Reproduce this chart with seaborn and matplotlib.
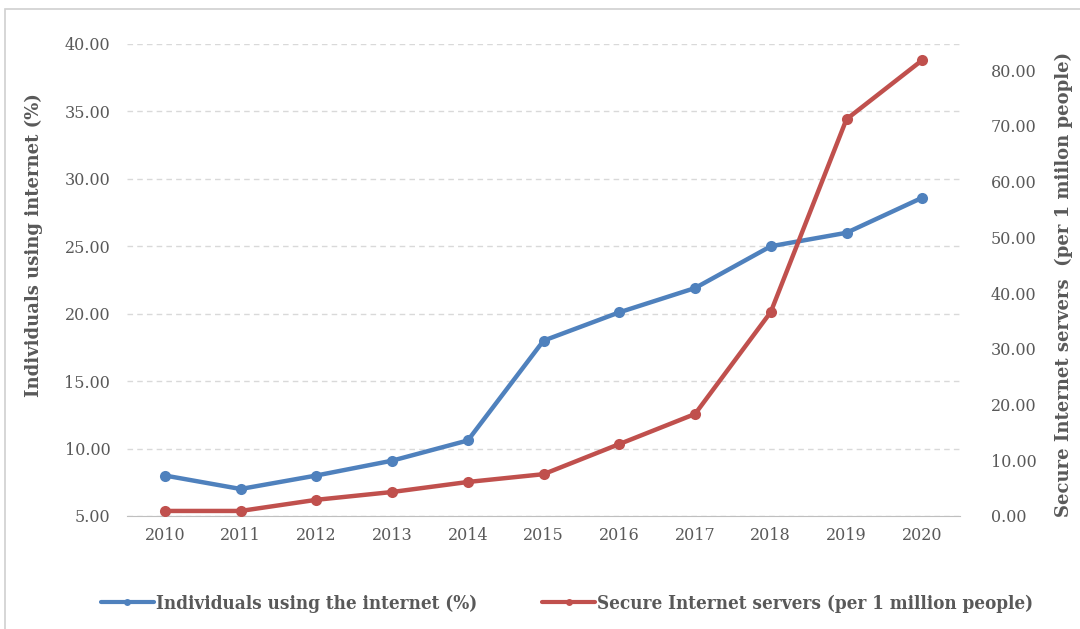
import matplotlib
matplotlib.use("Agg")
import matplotlib.pyplot as plt
from matplotlib.patches import Rectangle
from matplotlib.lines import Line2D
import seaborn as sns
import pandas as pd

############### Data
years = ["2010", "2011", "2012", "2013", "2014", "2015",
         "2016", "2017", "2018", "2019", "2020"]
internet_users = [8.0, 7.0, 8.0, 9.1, 10.6, 18.0, 20.1, 21.9, 25.0, 26.0, 28.6]
secure_servers = [0.9, 0.9, 2.9, 4.3, 6.1, 7.5, 12.9, 18.3, 36.6, 71.2, 81.8]

left_ticks = [5, 10, 15, 20, 25, 30, 35, 40]
right_ticks = [0, 10, 20, 30, 40, 50, 60, 70, 80]

users_label = "Individuals using the internet (%)"
servers_label = "Secure Internet servers (per 1 million people)"

blue = "#4f81bd"
red = "#c0504d"
grey = "#595959"

df = pd.DataFrame({"year": years, "users": internet_users, "servers": secure_servers})
df["pos"] = range(len(years))

sns.set_style("white")
plt.rcParams["font.family"] = ["DejaVu Serif"]

fig = plt.figure(figsize=(10.8, 6.29), dpi=100)
ax = fig.add_axes([0.1176, 0.1797, 0.7714, 0.7504])
ax2 = ax.twinx()

# frame around the chart, as in the source document
fig.patches.append(Rectangle((0.005, -0.01), 1.2, 0.995, transform=fig.transFigure,
                             fill=False, edgecolor="#d0d0d0", linewidth=1.2))

sns.lineplot(data=df, x="pos", y="users", ax=ax, color=blue, linewidth=3.2,
             marker="o", markersize=8, markeredgewidth=0, legend=False, zorder=3)
sns.lineplot(data=df, x="pos", y="servers", ax=ax2, color=red, linewidth=3.2,
             marker="o", markersize=8, markeredgewidth=0, legend=False, zorder=3)

ax.set_xlim(-0.5, len(years) - 0.5)
ax.set_ylim(5, 40)
ax2.set_ylim(0, 84.7)

ax.set_xticks(df["pos"])
ax.set_xticklabels(years)
ax.set_yticks(left_ticks)
ax.set_yticklabels([f"{v:.2f}" for v in left_ticks])
ax2.set_yticks(right_ticks)
ax2.set_yticklabels([f"{v:.2f}" for v in right_ticks])

ax.grid(axis="y", color="#d9d9d9", linestyle=(0, (4, 3)), linewidth=1)
ax.set_axisbelow(True)
for a in (ax, ax2):
    for s in a.spines.values():
        s.set_visible(False)
ax.spines["bottom"].set_visible(True)
ax.spines["bottom"].set_color("#bfbfbf")

ax.tick_params(axis="both", length=0, labelsize=11.5, colors=grey, pad=12)
ax2.tick_params(axis="y", length=0, labelsize=11.5, colors=grey, pad=22)
ax.tick_params(axis="x", pad=8)

ax.set_xlabel("")
ax.set_ylabel("Individuals using internet (%)", fontsize=13, fontweight="bold", color=grey)
ax.yaxis.set_label_coords(-0.101, 0.575)
ax2.set_ylabel("Secure Internet servers  (per 1 miilon people)", fontsize=13,
               fontweight="bold", color=grey)
ax2.yaxis.set_label_coords(1.113, 0.49)

# legend with smaller markers than the plotted lines
handles = [Line2D([], [], color=blue, linewidth=3, marker="o", markersize=5, markeredgewidth=0),
           Line2D([], [], color=red, linewidth=3, marker="o", markersize=5, markeredgewidth=0)]
leg = fig.legend(handles, [users_label, servers_label], loc="center",
                 bbox_to_anchor=(0.525, 0.04), ncol=2, frameon=False,
                 handlelength=2.8, handletextpad=0.1, columnspacing=3.5,
                 prop={"weight": "bold", "size": 13.5, "stretch": "condensed"})
for t in leg.get_texts():
    t.set_color(grey)

fig.savefig("out.png", dpi=100)
